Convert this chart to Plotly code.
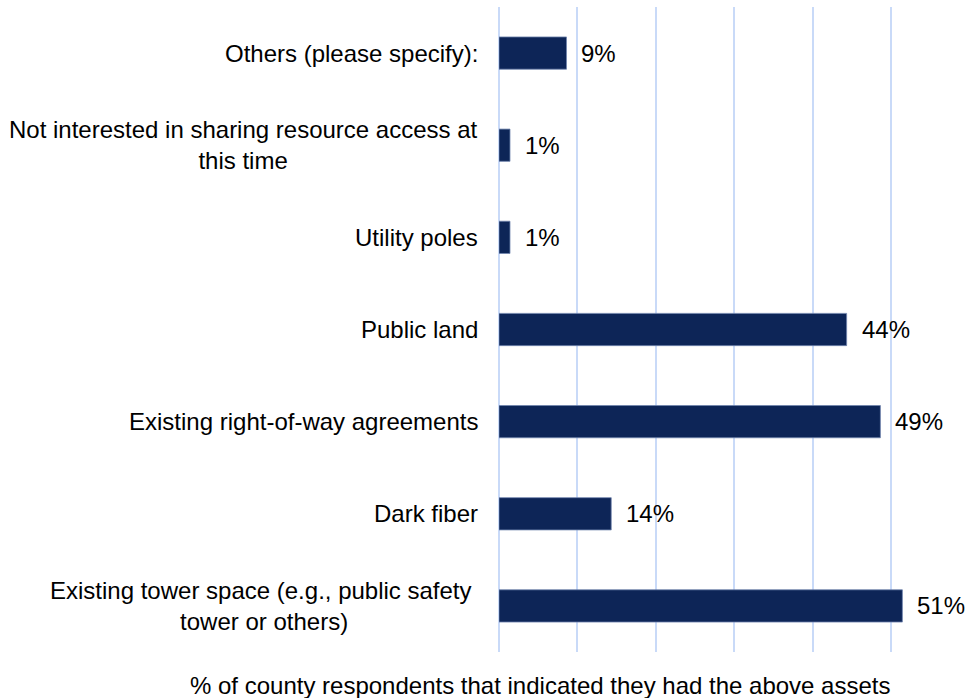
import plotly.graph_objects as go

# Assets counties reported having available for shared access (top to bottom)
categories = [
    "Others (please specify):",
    "Not interested in sharing resource access at<br>this time",
    "Utility poles",
    "Public land",
    "Existing right-of-way agreements",
    "Dark fiber",
    "Existing tower space (e.g., public safety\u00a0<br>tower or others)",
]
shares = [0.086, 0.014, 0.014, 0.443, 0.486, 0.143, 0.514]

axis_title = "% of county respondents that indicated they had the above assets"

FONT = "Liberation Sans, Arial, sans-serif"
FONT_SIZE = 24
BAR_COLOR = "#0D2557"
GRID_COLOR = "#C9DAF8"

W, H = 969, 698
L, R, T, B = 499, 7, 7, 46
plot_w = W - L - R
plot_h = H - T - B

fig = go.Figure(
    go.Bar(
        x=shares,
        y=categories,
        orientation="h",
        width=0.35,
        marker=dict(color=BAR_COLOR, line=dict(color="#7084AD", width=0.8)),
        hoverinfo="skip",
    )
)

text_font = dict(family=FONT, size=FONT_SIZE, color="#000000")
annotations = []
# value labels to the right of each bar
for cat, v in zip(categories, shares):
    annotations.append(dict(
        x=v, y=cat, xref="x", yref="y",
        text=f"{v:.0%}", showarrow=False,
        xanchor="left", yanchor="middle", xshift=13,
        font=text_font,
    ))
# category labels, centred multi-line text right-aligned against the axis
for cat in categories:
    annotations.append(dict(
        x=0, y=cat, xref="paper", yref="y",
        text=cat, showarrow=False, align="center",
        xanchor="right", yanchor="middle", xshift=-19,
        font=text_font,
    ))
# horizontal axis caption
annotations.append(dict(
    x=(540 - L) / plot_w, y=(H - B - 685) / plot_h,
    xref="paper", yref="paper", text=axis_title, showarrow=False,
    xanchor="center", yanchor="middle",
    font=text_font,
))

fig.update_layout(
    width=W, height=H,
    margin=dict(l=L, r=R, t=T, b=B, pad=0),
    paper_bgcolor="white", plot_bgcolor="white",
    showlegend=False,
    annotations=annotations,
    xaxis=dict(
        range=[0, 0.59], tickvals=[0, 0.1, 0.2, 0.3, 0.4, 0.5],
        showticklabels=False, showgrid=True, gridcolor=GRID_COLOR, gridwidth=2,
        zeroline=True, zerolinecolor=GRID_COLOR, zerolinewidth=2,
        showline=False, ticks="",
    ),
    yaxis=dict(
        type="category", categoryorder="array", categoryarray=categories,
        range=[6.5, -0.5], showticklabels=False, showgrid=False,
        zeroline=False, showline=False, ticks="",
    ),
)

fig.write_html("out.html")
